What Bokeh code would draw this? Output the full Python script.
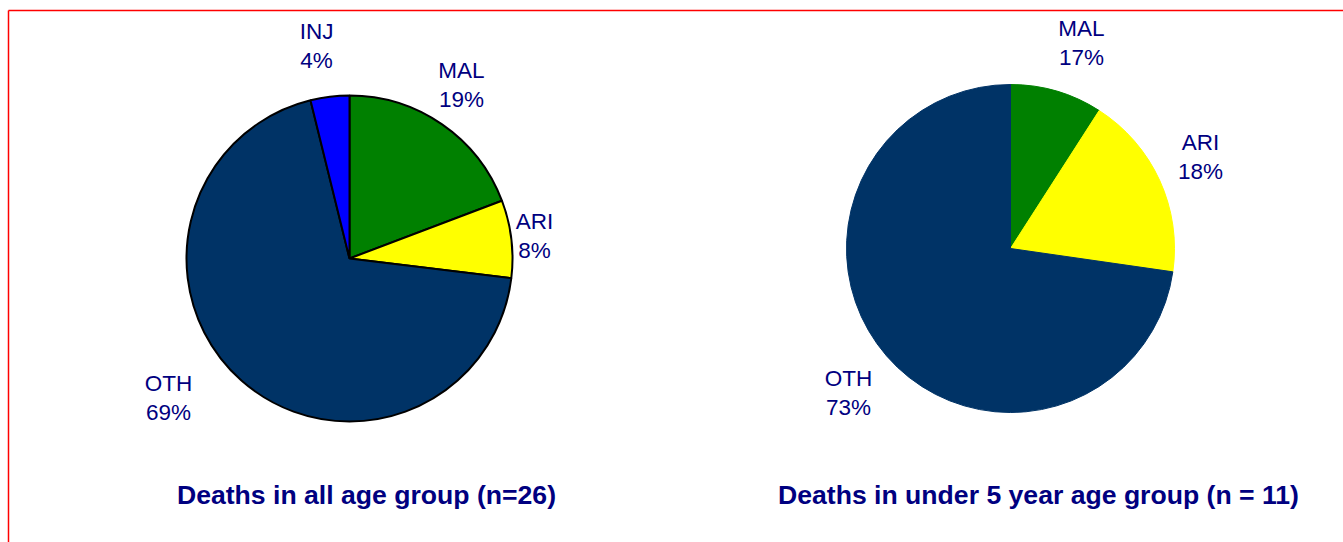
import math
from bokeh.plotting import figure
from bokeh.models import Range1d, ColumnDataSource
from bokeh.core.properties import value
from bokeh.embed import file_html
from bokeh.resources import INLINE

# ---- data ----
causes_all = ["MAL", "ARI", "OTH", "INJ"]
deaths_all = [5, 2, 18, 1]
pct_all = ["19%", "8%", "69%", "4%"]
colors_all = ["#008000", "#FFFF00", "#003366", "#0000FF"]
title_all = "Deaths in all age group (n=26)"

causes_u5 = ["MAL", "ARI", "OTH"]
deaths_u5 = [1, 2, 8]
pct_u5 = ["17%", "18%", "73%"]
colors_u5 = ["#008000", "#FFFF00", "#003366"]
title_u5 = "Deaths in under 5 year age group (n = 11)"

# ---- layout (page pixel positions) ----
W, H = 1343, 542
def X(px): return px
def Y(py): return H - py

pos_all = [(461, 70), (534, 221), (168, 383), (316, 31)]
pos_u5 = [(1081, 28), (1200, 142), (848, 378)]
LINE_GAP = 29

TEXT_COLOR = "#000080"
FONT = "Liberation Sans"

p = figure(width=W, height=H, x_range=Range1d(0, W), y_range=Range1d(0, H),
           output_backend="svg", toolbar_location=None, min_border=0)
p.axis.visible = False
p.grid.visible = False
p.outline_line_color = None
p.background_fill_color = "white"
p.border_fill_color = "white"

# red frame (top and left edges visible)
p.line([X(8), W], [Y(10), Y(10)], line_color="#FF0000", line_width=1.5)
p.line([X(8), X(8)], [0, Y(10)], line_color="#FF0000", line_width=1.5)


def pie(cx, cy, r, values, colors, outline):
    total = float(sum(values))
    starts, ends = [], []
    cum = 0.0
    for v in values:
        a_end = math.pi / 2 - 2 * math.pi * cum / total
        a_start = math.pi / 2 - 2 * math.pi * (cum + v) / total
        starts.append(a_start)
        ends.append(a_end)
        cum += v
    src = ColumnDataSource(dict(start=starts, end=ends, color=colors))
    if outline:
        p.wedge(x=cx, y=cy, radius=r, start_angle="start", end_angle="end",
                fill_color="color", line_color="black", line_width=2, source=src)
    else:
        p.wedge(x=cx, y=cy, radius=r, start_angle="start", end_angle="end",
                fill_color="color", line_color="color", line_width=1, source=src)


def labels(names, pcts, positions):
    xs = [X(px) for px, _ in positions]
    y1 = [Y(py) for _, py in positions]
    y2 = [Y(py + LINE_GAP) for _, py in positions]
    p.text(x=xs, y=y1, text=names, text_align="center", text_baseline="middle",
           text_color=TEXT_COLOR, text_font=value(FONT), text_font_size="22.5px")
    p.text(x=xs, y=y2, text=pcts, text_align="center", text_baseline="middle",
           text_color=TEXT_COLOR, text_font=value(FONT), text_font_size="22.5px")


pie(X(349), Y(258), 163, deaths_all, colors_all, True)
pie(X(1010), Y(248), 164, deaths_u5, colors_u5, False)
labels(causes_all, pct_all, pos_all)
labels(causes_u5, pct_u5, pos_u5)

p.text(x=[X(366), X(1038)], y=[Y(494), Y(494)], text=[title_all, title_u5],
       text_align="center", text_baseline="middle", text_color=TEXT_COLOR,
       text_font=value(FONT), text_font_size="26.6px", text_font_style="bold")

open("out.html", "w").write(file_html(p, INLINE))
